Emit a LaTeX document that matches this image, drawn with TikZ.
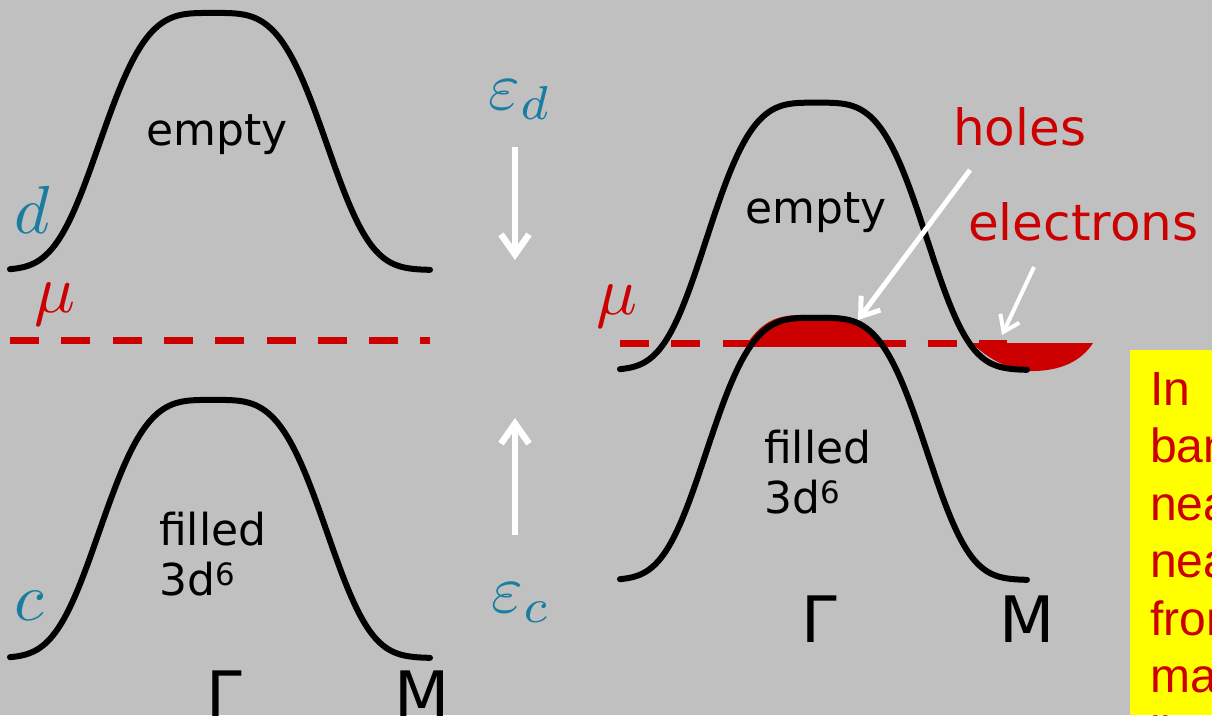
\documentclass[tikz,border=0pt]{standalone}
\usepackage{fontspec}
\setmainfont{DejaVu Sans}
\newfontfamily\boxfont{Liberation Sans}
\usetikzlibrary{arrows.meta}
\definecolor{bg}{RGB}{192,192,192}
\definecolor{bandred}{RGB}{204,0,0}
\definecolor{labelblue}{RGB}{24,125,160}
\definecolor{boxyellow}{RGB}{255,255,0}
\newcommand{\bandcoords}{plot[domain=0:420,samples=141,smooth] (\x,{-257*exp(-pow((abs(\x-203)+0.01)/125,3.6))})}
\tikzset{
  bandline/.style={line width=6pt, black, line cap=round},
  mudash/.style={line width=7pt, bandred, dash pattern=on 29pt off 22.3pt},
  whitearrow/.style={line width=6.5pt, white, -{Straight Barb[length=20pt,width=28pt,line width=6.5pt]}},
  holearrow/.style={line width=5pt, white, -{Straight Barb[length=17pt,width=24pt,line width=5pt]}},
  smallarrow/.style={line width=4pt, white, -{Straight Barb[length=15pt,width=21pt,line width=4pt]}},
  bandtext/.style={font=\fontsize{44}{50}\selectfont, text=black, inner sep=0pt, anchor=base west},
  redtext/.style={font=\fontsize{50}{56}\selectfont, text=bandred, inner sep=0pt, anchor=base west},
  kpoint/.style={font=\fontsize{64}{70}\selectfont, text=black, inner sep=0pt, anchor=base west},
  mathlabel/.style={font=\fontsize{10}{12}\selectfont, scale=6.8, inner sep=0pt, anchor=base west},
  boxtext/.style={font=\boxfont\fontsize{48}{54}\selectfont, text=bandred, inner sep=0pt, anchor=base west}
}
\begin{document}
\begin{tikzpicture}[x=1pt,y=-1pt]
\useasboundingbox (0,0) rectangle (1212,715);
\fill[bg] (0,0) rectangle (1212,715);
\clip (0,0) rectangle (1212,715);

% yellow box
\fill[boxyellow] (1130,350) rectangle (1212,715);
\node[boxtext] (t1) at (1150,405) {In};
\node[boxtext] (t2) at (1150,462) {bands};
\node[boxtext] (t3) at (1150,520) {near};
\node[boxtext] (t4) at (1150,577) {near};
\node[boxtext] (t5) at (1150,635) {from};
\node[boxtext] (t6) at (1150,692) {many};
\node[boxtext] (t7) at (1150,750) {ll};

% chemical potential lines
\draw[mudash] (10,340) -- (430,340);
\draw[mudash] (620,343) -- (1007,343);

% holes fill
\begin{scope}
  \clip (700,250) rectangle (950,346);
  \fill[bandred, shift={(617,577)}, xscale=0.969, yscale=1.02] \bandcoords -- cycle;
\end{scope}
% electrons fill
\fill[bandred] (972,343) .. controls (985,356) and (1005,369) .. (1027,371)
   .. controls (1062,372) and (1082,360) .. (1093,343) -- cycle;

% bands
\draw[bandline, shift={(10,270)}] \bandcoords;
\draw[bandline, shift={(10,658)}, yscale=1.004] \bandcoords;
\draw[bandline, shift={(620,370)}, xscale=0.969, yscale=1.04] \bandcoords;
\draw[bandline, shift={(620,580)}, xscale=0.969, yscale=1.02] \bandcoords;

% labels
\node[bandtext] (emptyL) at (146,145) {empty};
\node[bandtext] (emptyR) at (745,223) {empty};
\node[bandtext] (filledL) at (159,545) {filled};
\node[bandtext] (dsixL) at (159,595) {3d\textsuperscript{6}};
\node[bandtext] (filledR) at (764,463) {filled};
\node[bandtext] (dsixR) at (764,513) {3d\textsuperscript{6}};

\node[mathlabel, text=labelblue] (dlab) at (13,233) {$d$};
\node[mathlabel, text=labelblue] (clab) at (13,620) {$c$};
\node[mathlabel, text=bandred] (muL) at (33,312) {$\mu$};
\node[mathlabel, text=bandred] (muR) at (595,314) {$\mu$};
\node[mathlabel, text=labelblue] (epsd) at (487,109) {$\varepsilon_d$};
\node[mathlabel, text=labelblue] (epsc) at (490,612) {$\varepsilon_c$};

\node[kpoint] (GL) at (206,717) {Γ};
\node[kpoint] (ML) at (394,717) {M};
\node[kpoint] (GR) at (801,642) {Γ};
\node[kpoint] (MR) at (999,642) {M};

\node[redtext] (holes) at (953,145) {holes};
\node[redtext] (elec) at (968,240) {electrons};

% arrows
\coordinate (dA) at (515,147);
\coordinate (dB) at (515,260);
\coordinate (uA) at (515,535);
\coordinate (uB) at (515,418);
\coordinate (hA) at (970,170);
\coordinate (hB) at (858,320);
\coordinate (eA) at (1034,267);
\coordinate (eB) at (1002,335);
\draw[whitearrow] (dA) -- (dB);
\draw[whitearrow] (uA) -- (uB);
\draw[holearrow] (hA) -- (hB);
\draw[smallarrow] (eA) -- (eB);
\end{tikzpicture}
\end{document}
